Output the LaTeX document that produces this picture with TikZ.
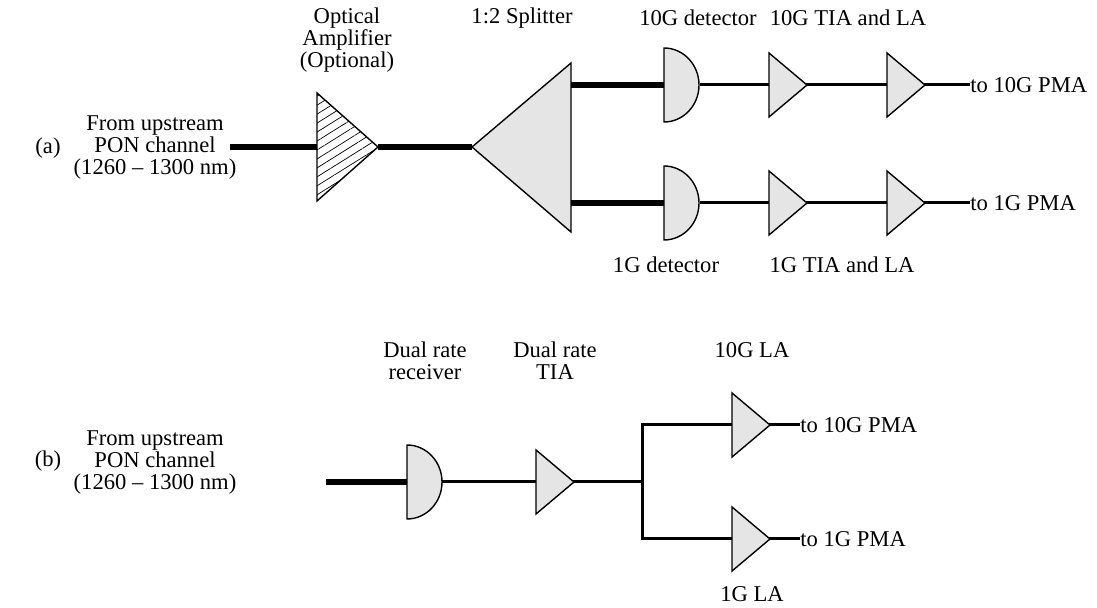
\documentclass[tikz,border=0pt]{standalone}
\usepackage{fontspec}
\setmainfont{Liberation Serif}
\usetikzlibrary{patterns.meta,positioning}
\tikzset{%
	device/.style = {draw, line width=0.7pt, fill=black!10},
	hatch/.style  = {draw, line width=0.7pt, pattern={Lines[angle=32,distance=3.8pt,line width=0.35pt]}},
	fibre/.style  = {line width=3.3pt},
	wire/.style   = {line width=1.5pt},
	txt/.style    = {align=center, inner sep=0pt, font=\fontsize{11.3}{11}\selectfont},
	amp/.pic      = {\draw[device] (0,-32) -- (38,0) -- (0,32) -- cycle;
		\coordinate (-in) at (0,0); \coordinate (-out) at (38,0);},
	det/.pic      = {\draw[device] (0,37) -- (0,-37) arc (-90:90:35 and 37) -- cycle;
		\coordinate (-in) at (0,0); \coordinate (-out) at (35,0);},
}

\begin{document}
\begin{tikzpicture}[x=0.5pt,y=-0.5pt]
	\useasboundingbox (0,0) rectangle (1097,608);
	
	% (a) separate receivers
	\node[txt] (tagA) at (48,148) {(a)};
	\node[txt] (srcA) at (155,148) {From upstream\\PON channel\\(1260 -- 1300 nm)};
	\coordinate (inA) at (230,147);
	\coordinate (oa-in) at (317,147);
	\coordinate (oa-out) at (378,147);
	\coordinate (sp-in) at (472,147);
	\draw[fibre] (inA) -- (oa-in);
	\draw[fibre] (oa-out) -- (sp-in);
	\draw[hatch] (317,93) -- (oa-out) -- (317,201) -- cycle;
	\draw[device] (sp-in) -- (571,63) -- (571,232) -- cycle;
	
	\foreach \n/\y/\r in {hi/85/10G,lo/203/1G} {
		\coordinate (sp-\n) at (571,\y);
		\coordinate (out\n) at (970,\y);
		\draw[fibre] (sp-\n) -- (664,\y);
		\draw[wire] (700,\y) -- (out\n);
		\pic (det\n) at (664,\y) {det};
		\pic (tia\n) at (769,\y) {amp};
		\pic (la\n) at (887,\y) {amp};
		\node[txt,anchor=west] (pma\n) at (out\n) {to \r\ PMA};
	}
	
	\node[txt] (ampText) at (347,40) {Optical\\Amplifier\\(Optional)};
	\node[txt] (splitText) at (522,18) {1:2 Splitter};
	\node[txt] (detText) at (698,18) {10G detector};
	\node[txt] (tiaText) at (848,18) {10G TIA and LA};
	\node[txt] (det1Text) at (666,265) {1G detector};
	\node[txt] (tia1Text) at (842,265) {1G TIA and LA};
	
	% (b) dual rate receiver
	\node[txt] (tagB) at (48,461) {(b)};
	\node[txt] (srcB) at (155,463) {From upstream\\PON channel\\(1260 -- 1300 nm)};
	\coordinate (inB) at (326,482);
	\coordinate (split) at (642,482);
	\coordinate (out10) at (800,425);
	\coordinate (out1) at (800,539);
	\draw[fibre] (inB) -- (407,482);
	\draw[wire] (440,482) -- (split);
	\draw[wire] (out10) -- (732,425) -| (split) |- (732,539) -- (out1);
	\pic (rx) at (407,482) {det};
	\pic (dtia) at (536,482) {amp};
	\pic (la10) at (732,425) {amp};
	\pic (la1) at (732,539) {amp};
	\node[txt,anchor=west] (pma10) at (out10) {to 10G PMA};
	\node[txt,anchor=west] (pma1) at (out1) {to 1G PMA};
	
	\node[txt] (rxText) at (425,361) {Dual rate\\receiver};
	\node[txt] (dtiaText) at (555,361) {Dual rate\\TIA};
	\node[txt] (la10Text) at (752,350) {10G LA};
	\node[txt] (la1Text) at (752,594) {1G LA};
\end{tikzpicture}
\end{document}
